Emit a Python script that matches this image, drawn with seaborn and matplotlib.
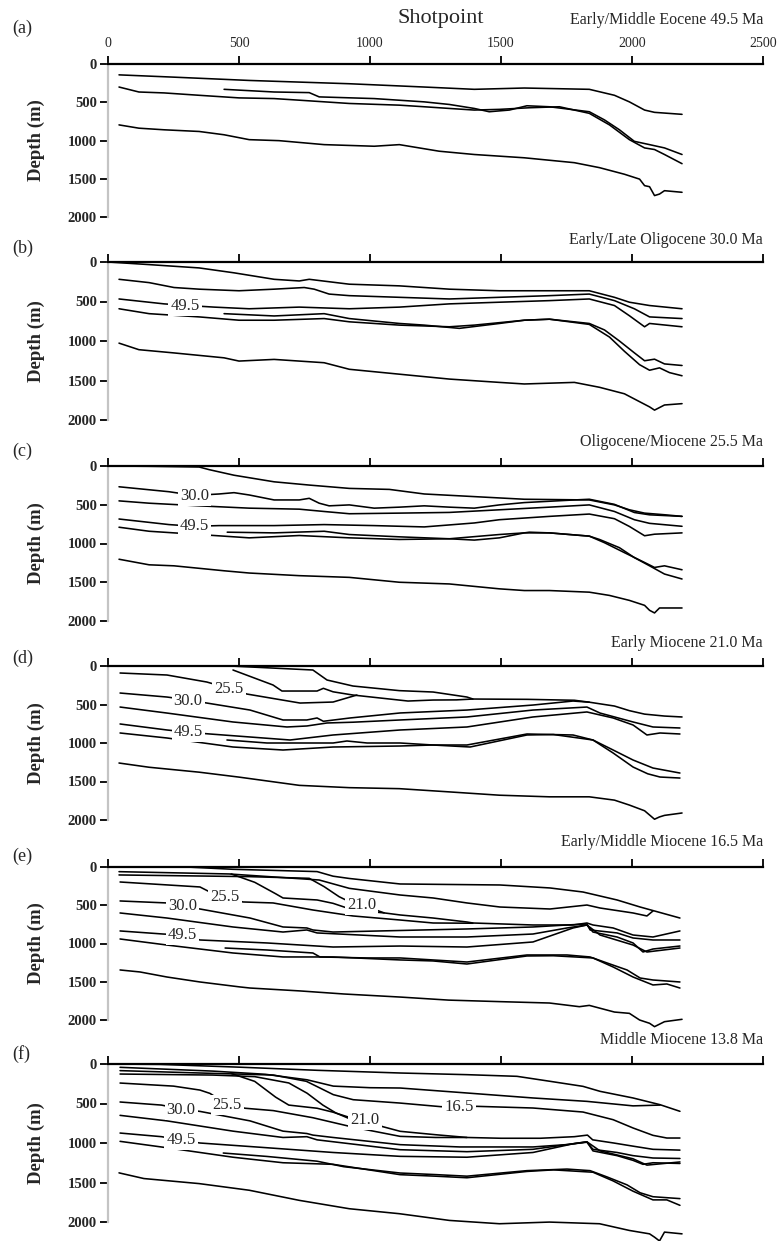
import matplotlib
matplotlib.use("Agg")
import matplotlib.pyplot as plt
import pandas as pd
import seaborn as sns

# ---------------- data: (shotpoint, depth m) ----------------
# Panel (a) Early/Middle Eocene 49.5 Ma
a_top = [(42,142),(252,172),(539,215),(921,258),(1207,301),(1398,331),(1589,314),(1837,331),(1933,409),(1990,495),(2048,602),(2086,632),(2191,658)]
a_l2 = [(42,301),(118,366),(214,378),(348,409),(500,443),(634,452),(730,473),(921,516),(1112,538),(1207,559),(1303,581),(1398,602),(1494,593),(1608,572),(1723,559),(1837,645),(1914,796),(1990,989),(2048,1097),(2086,1118),(2124,1183),(2191,1303)]
a_seg = [(443,331),(634,366),(768,374),(806,430),(1016,452),(1207,495),(1303,529),(1398,581),(1455,624),(1532,602),(1599,546),(1685,559),(1837,624),(1895,731),(1952,860),(2009,1011),(2067,1054),(2124,1097),(2191,1183)]
a_base = [(42,796),(118,839),(214,860),(348,882),(443,925),(539,989),(653,1002),(825,1054),(1016,1075),(1112,1054),(1264,1140),(1398,1183),(1589,1226),(1780,1290),(1876,1355),(1971,1441),(2029,1505),(2048,1590),(2067,1604),(2086,1720),(2105,1700),(2124,1656),(2191,1677)]

# Panel (b) Early/Late Oligocene 30.0 Ma
b_top = [(0,0),(157,33),(348,75),(481,137),(634,219),(730,240),(768,219),(921,281),(1112,302),(1303,344),(1494,364),(1685,364),(1837,364),(1933,447),(1990,509),(2067,551),(2191,592)]
b_l2 = [(42,219),(157,261),(252,323),(348,344),(500,364),(634,344),(749,323),(787,344),(844,406),(921,426),(1112,447),(1303,468),(1494,447),(1685,426),(1837,406),(1933,489),(2009,592),(2067,695),(2191,716)]
b_495 = [(42,468),(214,530),(300,550),(405,571),(539,592),(730,571),(921,592),(1112,571),(1303,530),(1494,509),(1685,489),(1837,468),(1933,551),(1990,680),(2048,820),(2067,778),(2191,820)]
b_seg = [(443,654),(634,683),(825,654),(921,716),(1112,778),(1207,799),(1341,840),(1494,778),(1589,737),(1685,724),(1837,778),(1895,860),(1952,1000),(2009,1150),(2048,1250),(2086,1230),(2124,1290),(2191,1310)]
b_l5 = [(42,592),(157,654),(348,695),(500,737),(634,737),(825,716),(921,757),(1112,799),(1303,820),(1398,799),(1589,737),(1685,724),(1837,790),(1914,950),(1971,1130),(2029,1300),(2067,1370),(2105,1340),(2143,1400),(2191,1440)]
b_base = [(42,1027),(118,1110),(252,1151),(443,1213),(500,1254),(634,1233),(825,1275),(921,1358),(1112,1420),(1303,1482),(1494,1524),(1589,1544),(1780,1524),(1876,1586),(1971,1668),(2067,1834),(2086,1875),(2124,1810),(2191,1793)]

# Panel (c) Oligocene/Miocene 25.5 Ma
c_top = [(0,0),(157,4),(348,13),(386,47),(481,119),(634,204),(768,246),(921,289),(1074,302),(1207,361),(1398,395),(1589,429),(1837,438),(1933,502),(1990,565),(2048,608),(2124,629),(2191,650)]
c_300 = [(42,268),(233,332),(329,380),(424,361),(481,344),(539,374),(634,438),(730,438),(768,417),(806,480),(844,514),(921,502),(1016,544),(1112,531),(1207,514),(1303,531),(1398,544),(1494,502),(1589,472),(1685,455),(1780,438),(1837,429),(1933,495),(2009,600),(2067,630),(2191,650)]
c_l3 = [(42,450),(157,480),(348,514),(539,544),(730,557),(825,587),(921,616),(1112,608),(1303,599),(1494,565),(1685,531),(1837,502),(1933,587),(2009,693),(2067,740),(2191,778)]
c_495 = [(42,684),(233,756),(329,778),(424,769),(634,769),(825,756),(1016,769),(1207,786),(1398,735),(1494,693),(1685,650),(1837,620),(1933,680),(1990,780),(2048,900),(2086,880),(2191,863)]
c_seg = [(455,854),(634,863),(825,842),(921,884),(1112,914),(1303,939),(1398,956),(1494,927),(1589,863),(1608,854),(1685,863),(1837,905),(1876,948),(1952,1054),(2009,1182),(2067,1288),(2124,1394),(2191,1458)]
c_l6 = [(42,790),(157,842),(348,884),(539,927),(730,897),(921,927),(1112,948),(1303,939),(1494,884),(1589,863),(1685,863),(1837,905),(1895,990),(1971,1118),(2048,1245),(2086,1309),(2124,1288),(2191,1339)]
c_base = [(42,1203),(157,1275),(252,1288),(443,1352),(539,1381),(730,1415),(921,1437),(1112,1500),(1303,1522),(1494,1585),(1589,1607),(1685,1607),(1837,1628),(1914,1670),(1990,1734),(2048,1798),(2067,1862),(2086,1896),(2105,1832),(2191,1832)]

# Panel (d) Early Miocene 21.0 Ma
d_top = [(0,0),(466,0),(782,52),(836,182),(935,260),(1112,320),(1241,338),(1370,403),(1393,429),(1600,433),(1780,445),(1837,470),(1933,520),(1990,580),(2048,625),(2124,650),(2191,662)]
d_B = [(477,52),(630,247),(664,325),(798,325),(822,290),(859,335),(935,377),(1145,455),(1241,442),(1330,440),(1393,429)]
d_255 = [(46,91),(225,117),(377,208),(462,290),(530,364),(733,481),(859,468),(950,377)]
d_300 = [(46,351),(225,403),(306,440),(377,481),(542,572),(668,701),(759,701),(798,675),(822,718),(924,675),(1115,610),(1370,572),(1622,507),(1775,455),(1837,470)]
d_l4 = [(46,533),(225,611),(477,727),(683,792),(759,779),(836,740),(935,730),(1115,701),(1370,662),(1622,572),(1828,533),(1878,611),(2004,727),(2080,792),(2183,805)]
d_495 = [(46,753),(225,831),(306,860),(389,883),(542,922),(695,961),(859,896),(1115,831),(1370,792),(1496,727),(1622,662),(1828,597),(1928,675),(2004,766),(2057,896),(2107,870),(2183,883)]
d_seg = [(454,961),(607,1000),(859,1000),(912,974),(989,1000),(1115,1000),(1240,1026),(1370,1026),(1599,883),(1775,896),(1851,961),(1928,1091),(2004,1221),(2080,1325),(2183,1390)]
d_l7 = [(46,870),(225,935),(477,1052),(668,1091),(859,1052),(1115,1039),(1240,1026),(1382,1052),(1599,896),(1700,890),(1851,961),(1928,1130),(2004,1312),(2060,1400),(2107,1442),(2183,1455)]
d_base = [(42,1260),(157,1315),(348,1379),(500,1443),(730,1550),(921,1580),(1112,1593),(1303,1635),(1494,1678),(1685,1699),(1837,1699),(1933,1742),(1990,1806),(2048,1880),(2086,1990),(2105,1960),(2124,1940),(2191,1909)]

# Panel (e) Early/Middle Miocene 16.5 Ma
e_top = [(0,0),(300,0),(477,30),(798,60),(859,120),(921,150),(1115,222),(1496,235),(1687,274),(1813,327),(1943,431),(2031,523),(2183,667)]
e_l2 = [(42,61),(462,91),(806,170),(921,279),(1115,366),(1241,405),(1370,470),(1496,523),(1687,549),(1828,497),(1878,536),(2004,601),(2057,640),(2080,575)]
e_B = [(470,91),(560,200),(640,350),(668,405),(798,431),(859,475),(935,562),(1054,600)]
e_210 = [(42,104),(539,126),(768,148),(825,257),(882,388),(921,453),(969,497),(1054,600),(1115,627),(1241,667),(1370,719),(1393,732),(1622,758),(1775,758),(1828,732),(1851,758),(1928,797),(2004,889),(2080,915),(2183,836)]
e_255 = [(46,196),(351,261),(389,327),(447,392),(515,457),(630,470),(782,562),(935,640),(1115,693),(1241,732),(1393,735)]
e_300 = [(46,444),(225,470),(285,510),(351,549),(542,667),(668,784),(759,797),(782,823),(859,850),(1115,830),(1370,810),(1622,784),(1752,758),(1828,745),(1840,823),(1943,862),(2004,928),(2080,954),(2183,954)]
e_l5 = [(46,601),(225,667),(477,784),(668,850),(759,823),(798,862),(1115,915),(1370,915),(1622,876),(1752,797),(1828,758),(1851,850),(1943,915),(2004,993),(2042,1111),(2080,1072),(2183,1033)]
e_495 = [(46,836),(210,876),(285,889),(351,954),(607,993),(859,1046),(1115,1033),(1370,1046),(1622,980),(1775,797),(1828,758),(1878,889),(2004,1020),(2057,1111),(2183,1059)]
e_seg = [(447,1059),(607,1085),(782,1124),(809,1176),(989,1189),(1115,1189),(1240,1215),(1370,1242),(1599,1150),(1752,1150),(1840,1176),(1905,1255),(1981,1346),(2031,1451),(2080,1477),(2183,1503)]
e_l8 = [(46,941),(225,1020),(477,1124),(668,1176),(859,1176),(1115,1215),(1240,1228),(1370,1268),(1599,1163),(1700,1160),(1851,1189),(1928,1307),(2004,1438),(2080,1542),(2133,1529),(2183,1582)]
e_base = [(46,1346),(122,1372),(225,1438),(351,1503),(504,1568),(542,1582),(733,1620),(900,1660),(1115,1700),(1300,1740),(1496,1760),(1685,1778),(1799,1826),(1837,1809),(1933,1896),(1990,1913),(2029,2000),(2067,2043),(2086,2087),(2124,2022),(2191,1991)]

# Panel (f) Middle Miocene 13.8 Ma
f_top = [(0,0),(200,5),(500,40),(800,80),(1115,114),(1370,135),(1561,156),(1687,219),(1813,283),(1878,346),(2004,430),(2107,515),(2183,599)]
f_l2 = [(46,42),(400,90),(600,130),(760,200),(860,280),(1000,300),(1115,304),(1370,367),(1622,430),(1828,473),(2004,530),(2107,520)]
f_165 = [(46,84),(351,114),(631,140),(757,219),(809,304),(860,388),(936,452),(1113,494),(1270,540),(1340,545),(1408,536),(1622,557),(1813,608),(1928,705),(2004,810),(2080,903),(2133,937),(2183,937)]
f_B = [(470,120),(560,220),(640,420),(690,520),(798,560),(859,610),(935,690),(1045,790)]
f_210 = [(46,127),(400,140),(560,160),(690,240),(760,370),(820,520),(870,620),(920,690),(981,709),(1045,790),(1115,852),(1250,895),(1370,930),(1500,940),(1650,940),(1780,920),(1830,900),(1850,960),(1930,1000),(2004,1040),(2080,1080),(2183,1090)]
f_255 = [(46,241),(250,280),(351,330),(389,372),(455,510),(523,560),(631,590),(782,680),(936,800),(1115,916),(1250,930),(1370,930)]
f_300 = [(46,481),(204,520),(279,570),(351,600),(542,720),(668,850),(759,880),(782,900),(859,930),(1115,1021),(1343,1050),(1622,1050),(1752,1020),(1828,990),(1851,1080),(1943,1120),(2004,1160),(2080,1190),(2183,1196)]
f_l5 = [(46,650),(225,720),(477,850),(668,930),(759,920),(798,960),(1115,1085),(1370,1110),(1622,1080),(1752,1020),(1828,985),(1851,1100),(1943,1160),(2004,1220),(2042,1270),(2080,1250),(2183,1259)]
f_495 = [(46,874),(204,920),(279,962),(351,1000),(607,1060),(859,1120),(1115,1169),(1370,1180),(1622,1120),(1775,1010),(1828,985),(1878,1100),(2004,1200),(2057,1280),(2183,1240)]
f_seg = [(440,1127),(606,1170),(797,1230),(900,1300),(1115,1380),(1250,1400),(1370,1420),(1500,1380),(1599,1350),(1752,1330),(1840,1350),(1905,1430),(1981,1530),(2031,1630),(2080,1680),(2183,1704)]
f_l8 = [(46,979),(225,1060),(477,1180),(668,1250),(859,1270),(1115,1401),(1250,1420),(1370,1440),(1599,1360),(1700,1340),(1851,1370),(1928,1480),(2004,1610),(2080,1720),(2133,1720),(2183,1789)]
f_base = [(42,1378),(137,1450),(348,1514),(539,1598),(730,1726),(921,1832),(1112,1895),(1303,1980),(1494,2022),(1685,2001),(1876,2022),(1990,2107),(2067,2150),(2086,2192),(2105,2240),(2124,2128),(2191,2150)]

# Horizon labels: (text, shotpoint, depth)
lbl_a = []
lbl_b = [("49.5", 294, 560)]
lbl_c = [("30.0", 329, 387), ("49.5", 329, 778)]
lbl_d = [("25.5", 462, 300), ("30.0", 306, 455), ("49.5", 306, 857)]
lbl_e = [("25.5", 447, 392), ("30.0", 285, 510), ("21.0", 969, 497), ("49.5", 285, 889)]
lbl_f = [("30.0", 279, 582), ("25.5", 455, 519), ("21.0", 981, 709), ("16.5", 1340, 550), ("49.5", 279, 962)]

letters = ["(a)", "(b)", "(c)", "(d)", "(e)", "(f)"]
titles = ["Early/Middle Eocene 49.5 Ma", "Early/Late Oligocene 30.0 Ma",
          "Oligocene/Miocene 25.5 Ma", "Early Miocene 21.0 Ma",
          "Early/Middle Miocene 16.5 Ma", "Middle Miocene 13.8 Ma"]
x_ticks = [0, 500, 1000, 1500, 2000, 2500]
y_ticks = [0, 500, 1000, 1500, 2000]

panel_lines = [
    [a_top, a_l2, a_seg, a_base],
    [b_top, b_l2, b_495, b_seg, b_l5, b_base],
    [c_top, c_300, c_l3, c_495, c_seg, c_l6, c_base],
    [d_top, d_B, d_255, d_300, d_l4, d_495, d_seg, d_l7, d_base],
    [e_top, e_l2, e_B, e_210, e_255, e_300, e_l5, e_495, e_seg, e_l8, e_base],
    [f_top, f_l2, f_165, f_B, f_210, f_255, f_300, f_l5, f_495, f_seg, f_l8, f_base],
]
panel_labels = [lbl_a, lbl_b, lbl_c, lbl_d, lbl_e, lbl_f]

# ---------------- layout (pixel geometry) ----------------
W, H = 781, 1241
zero_px = [64, 262, 466, 666, 867, 1064]
bot_px = [217, 420, 621, 820, 1020, 1222]
title_px = [20, 240, 442, 643, 842, 1040]
letter_px = [28, 248, 451, 658, 856, 1054]
X0, X1 = 108, 763

sns.set_theme(style="white")
plt.rcParams['font.family'] = ['Liberation Serif', 'DejaVu Serif']

fig = plt.figure(figsize=(W / 100, H / 100), dpi=100)
fig.patch.set_facecolor("white")

for i in range(6):
    y0, y1 = zero_px[i], bot_px[i]
    ax = fig.add_axes([X0 / W, 1 - y1 / H, (X1 - X0) / W, (y1 - y0) / H])
    rows = []
    for k, ln in enumerate(panel_lines[i]):
        for j, (s, d) in enumerate(ln):
            rows.append((k, j, s, d))
    df = pd.DataFrame(rows, columns=["line", "order", "shotpoint", "depth"])
    sns.lineplot(data=df, x="shotpoint", y="depth", units="line", estimator=None,
                 sort=False, color="black", lw=1.15, ax=ax, legend=False)
    for l in ax.lines:
        l.set_clip_on(False)
        l.set_solid_joinstyle("round")

    for txt, s, d in panel_labels[i]:
        ax.text(s, d, txt, ha="center", va="center", fontsize=12, zorder=6,
                bbox=dict(boxstyle="square,pad=0.12", fc="white", ec="none"))

    ax.set_xlim(0, 2500)
    ax.set_ylim(2000, 0)
    ax.set_xticks(x_ticks)
    ax.set_yticks(y_ticks)
    ax.set_xlabel("")
    ax.set_ylabel("Depth (m)", fontsize=13.5, fontweight="bold")
    ax.yaxis.set_label_coords(-(X0 - 45) / (X1 - X0), 0.5)
    ax.set_facecolor("none")

    for sp in ["bottom", "right"]:
        ax.spines[sp].set_visible(False)
    ax.spines["top"].set_color("black")
    ax.spines["top"].set_linewidth(1.6)
    ax.spines["left"].set_color("#c4c4c4")
    ax.spines["left"].set_linewidth(1.6)
    ax.spines["left"].set_bounds(0, 2000)

    ax.xaxis.set_ticks_position("top")
    ax.tick_params(axis="x", which="both", top=True, bottom=False, direction="out",
                   length=6, width=1.3, color="black",
                   labeltop=(i == 0), labelbottom=False, labelsize=10, pad=4)
    ax.tick_params(axis="y", left=True, direction="out", length=6, width=1.3,
                   color="black", labelsize=10.5, pad=2)
    for t in ax.get_yticklabels():
        t.set_fontweight("bold")

    fig.text(X1 / W, 1 - title_px[i] / H, titles[i], ha="right", va="center", fontsize=11.5)
    fig.text(12 / W, 1 - letter_px[i] / H, letters[i], ha="left", va="center", fontsize=13)

fig.text(441 / W, 1 - 18 / H, "Shotpoint", ha="center", va="center", fontsize=16)

fig.savefig("out.png", dpi=100, facecolor="white")
